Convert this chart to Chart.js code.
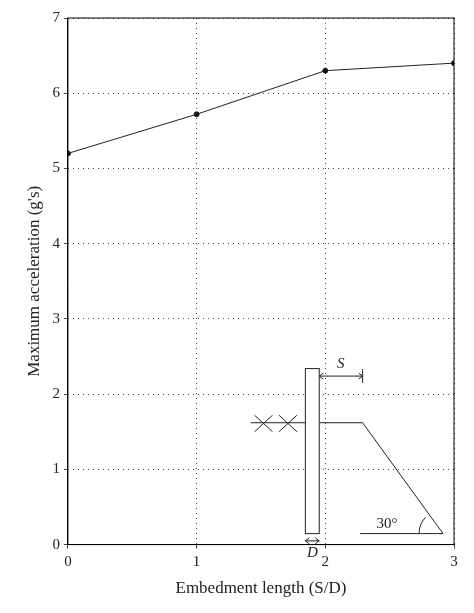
<!DOCTYPE html>
<html>
<head>
<meta charset="utf-8">
<script src="https://cdn.jsdelivr.net/npm/chart.js@4/dist/chart.umd.min.js"></script>
<style>
  html, body { margin: 0; padding: 0; background: #fff; }
  #wrap { width: 474px; height: 613px; }
</style>
</head>
<body>
<div id="wrap"><canvas id="chart"></canvas></div>
<script>
const embedment = [0, 1, 2, 3];
const maxAccel = [5.2, 5.72, 6.3, 6.4];
const xTicks = [0, 1, 2, 3];
const yTicks = [0, 1, 2, 3, 4, 5, 6, 7];

// inset sketch (pile next to a slope), drawn in data units
const sketch = function () {
    return {
        id: 'sketch',
        afterDatasetsDraw(chart) {
            const ctx = chart.ctx, xs = chart.scales.x, ys = chart.scales.y;
            const X = v => xs.getPixelForValue(v), Y = v => ys.getPixelForValue(v);
            ctx.save();
            ctx.strokeStyle = '#222';
            ctx.lineWidth = 1;
            ctx.beginPath();
            // ground left
            ctx.moveTo(X(1.42), Y(1.62)); ctx.lineTo(X(1.845), Y(1.62));
            // ground right and slope
            ctx.moveTo(X(1.953), Y(1.62)); ctx.lineTo(X(2.29), Y(1.62));
            ctx.lineTo(X(2.915), Y(0.146)); ctx.lineTo(X(2.27), Y(0.146));
            ctx.stroke();
            // pile
            ctx.fillStyle = '#fff';
            ctx.fillRect(X(1.845), Y(2.34), X(1.953) - X(1.845), Y(0.146) - Y(2.34));
            ctx.strokeRect(X(1.845), Y(2.34), X(1.953) - X(1.845), Y(0.146) - Y(2.34));
            // hatch marks
            [1.52, 1.71].forEach(c => {
                ctx.beginPath();
                ctx.moveTo(X(c - 0.07), Y(1.5)); ctx.lineTo(X(c + 0.07), Y(1.72));
                ctx.moveTo(X(c - 0.07), Y(1.72)); ctx.lineTo(X(c + 0.07), Y(1.5));
                ctx.stroke();
            });
            // angle arc
            ctx.beginPath();
            ctx.arc(X(2.915), Y(0.146), 24, Math.PI, Math.PI + Math.PI / 4.2);
            ctx.stroke();
            // arrows
            const arrow = (x1, x2, y) => {
                ctx.beginPath();
                ctx.moveTo(x1, y); ctx.lineTo(x2, y);
                ctx.moveTo(x1 + 4, y - 3); ctx.lineTo(x1, y); ctx.lineTo(x1 + 4, y + 3);
                ctx.moveTo(x2 - 4, y - 3); ctx.lineTo(x2, y); ctx.lineTo(x2 - 4, y + 3);
                ctx.stroke();
            };
            arrow(X(1.953), X(2.29), Y(2.24));
            ctx.beginPath();
            ctx.moveTo(X(2.29), Y(2.33)); ctx.lineTo(X(2.29), Y(2.15)); ctx.stroke();
            arrow(X(1.845), X(1.953), Y(0.05));
            ctx.fillStyle = '#222';
            ctx.font = 'italic 15px "Liberation Serif"';
            ctx.textAlign = 'center';
            ctx.fillText('S', X(2.12), Y(2.35));
            ctx.fillText('D', X(1.9), Y(-0.17));
            ctx.font = '15px "Liberation Serif"';
            ctx.fillText('30°', X(2.48), Y(0.22));
            ctx.restore();
        }
    };
};

new Chart(document.getElementById('chart'), {
    type: 'line',
    data: {
        datasets: [{
            data: embedment.map((x, i) => ({x: x, y: maxAccel[i]})),
            borderColor: '#222',
            backgroundColor: '#111',
            borderWidth: 1,
            pointRadius: 2.5,
            tension: 0
        }]
    },
    options: {
        responsive: true,
        maintainAspectRatio: false,
        animation: false,
        layout: {padding: {top: 18, right: 20, left: 20, bottom: 10}},
        plugins: {legend: {display: false}, tooltip: {enabled: false}},
        scales: {
            x: {
                type: 'linear', min: 0, max: 3,
                afterBuildTicks: a => { a.ticks = xTicks.map(v => ({value: v})); },
                grid: {color: '#444', tickLength: 4},
                border: {color: '#000', width: 1, dash: [1, 4]},
                ticks: {color: '#222', padding: 4, font: {family: 'Liberation Serif', size: 15}},
                title: {display: true, text: 'Embedment length (S/D)', color: '#222',
                        font: {family: 'Liberation Serif', size: 17}}
            },
            y: {
                min: 0, max: 7,
                afterBuildTicks: a => { a.ticks = yTicks.map(v => ({value: v})); },
                grid: {color: '#444', tickLength: 4},
                border: {color: '#000', width: 1, dash: [1, 4]},
                ticks: {color: '#222', padding: 4, font: {family: 'Liberation Serif', size: 15}},
                title: {display: true, text: 'Maximum acceleration (g\'s)', color: '#222',
                        font: {family: 'Liberation Serif', size: 17}}
            }
        }
    },
    plugins: [sketch(), {
        id: 'frame',
        afterDraw(chart) {
            const a = chart.chartArea, ctx = chart.ctx;
            ctx.save();
            ctx.strokeStyle = '#000';
            ctx.lineWidth = 1;
            ctx.strokeRect(a.left, a.top, a.right - a.left, a.bottom - a.top);
            ctx.restore();
        }
    }]
});
</script>
</body>
</html>
